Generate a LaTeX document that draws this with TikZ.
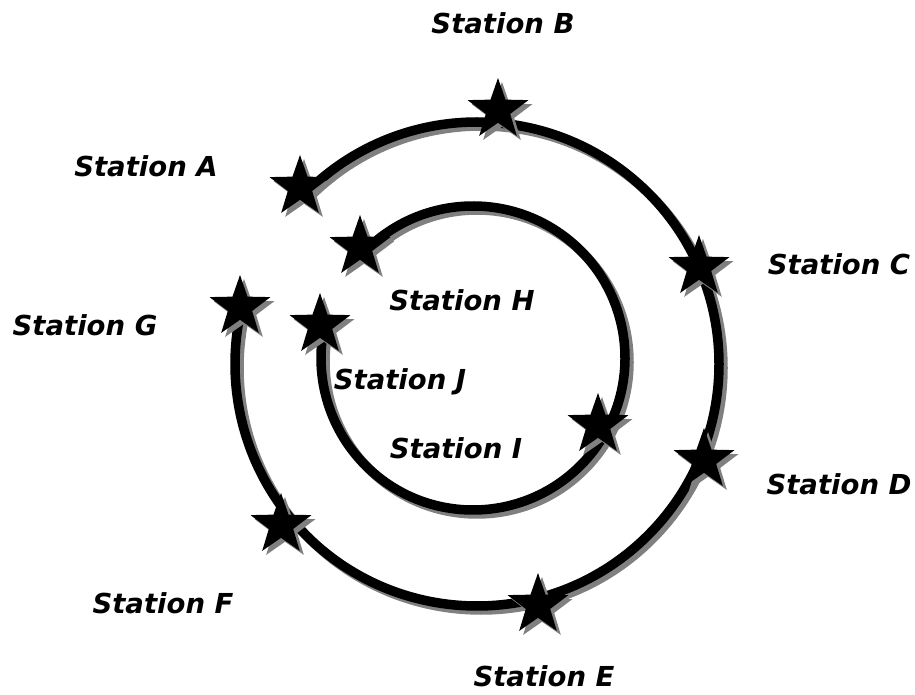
\documentclass[tikz,border=0pt]{standalone}
\usepackage{fontspec}
\newfontfamily\stationfont{DejaVu Sans}
\usetikzlibrary{shapes.geometric}
\definecolor{shadowgray}{RGB}{128,128,128}
\begin{document}
\begin{tikzpicture}[x=1pt,y=1pt,
  track/.style={line width=9.5pt, draw=black},
  shadowtrack/.style={line width=9.5pt, draw=shadowgray},
  stationstar/.style={star, star points=5, star point ratio=2.5,
    minimum size=64pt, inner sep=0pt, draw=none, fill=black},
  starshadow/.style={stationstar, fill=shadowgray},
  stationlabel/.style={font=\stationfont\bfseries\itshape\fontsize{27.5}{33}\selectfont,
    inner sep=0pt}]
\fill[white] (0,0) rectangle (915,694);
\useasboundingbox (0,0) rectangle (915,694);

% centres of the two loops and of their shadows
\coordinate (oc) at (477,330);
\coordinate (ocs) at (481,326);
\coordinate (ic) at (473,336);
\coordinate (ics) at (477,332);

% station positions
\coordinate (pA) at (300,507);
\coordinate (pB) at (498,584);
\coordinate (pC) at (699,427);
\coordinate (pD) at (704,234);
\coordinate (pE) at (538,89);
\coordinate (pF) at (281,169);
\coordinate (pG) at (240,387);
\coordinate (pH) at (360,447);
\coordinate (pI) at (598,269);
\coordinate (pJ) at (320,369);

% shadows of the tracks
\draw[shadowtrack] ([shift={(135:242)}]ocs) arc[start angle=135, end angle=-192, radius=242];
\draw[shadowtrack] ([shift={(136:152)}]ics) arc[start angle=136, end angle=-192, radius=152];

% outer and inner tracks
\draw[track] ([shift={(135:242)}]oc) arc[start angle=135, end angle=-192, radius=242];
\draw[track] ([shift={(136:152)}]ic) arc[start angle=136, end angle=-192, radius=152];

% shadows of the stations
\foreach \p in {pA,pB,pC,pD,pE,pF,pG,pH,pI,pJ}
  \node[starshadow] at ([shift={(4,-4)}]\p) {};

% stations
\node[stationstar] (A) at (pA) {};
\node[stationstar] (B) at (pB) {};
\node[stationstar] (C) at (pC) {};
\node[stationstar] (D) at (pD) {};
\node[stationstar] (E) at (pE) {};
\node[stationstar] (F) at (pF) {};
\node[stationstar] (G) at (pG) {};
\node[stationstar] (H) at (pH) {};
\node[stationstar] (I) at (pI) {};
\node[stationstar] (J) at (pJ) {};

% station names
\node[stationlabel] (tA) at (146,528) {Station A};
\node[stationlabel] (tB) at (503,671) {Station B};
\node[stationlabel] (tC) at (839,430) {Station C};
\node[stationlabel] (tD) at (839,210) {Station D};
\node[stationlabel] (tE) at (544,18) {Station E};
\node[stationlabel] (tF) at (163,91) {Station F};
\node[stationlabel] (tG) at (85,369) {Station G};
\node[stationlabel] (tH) at (462,394) {Station H};
\node[stationlabel] (tI) at (456,246) {Station I};
\node[stationlabel] (tJ) at (400,312) {Station J};
\end{tikzpicture}
\end{document}
